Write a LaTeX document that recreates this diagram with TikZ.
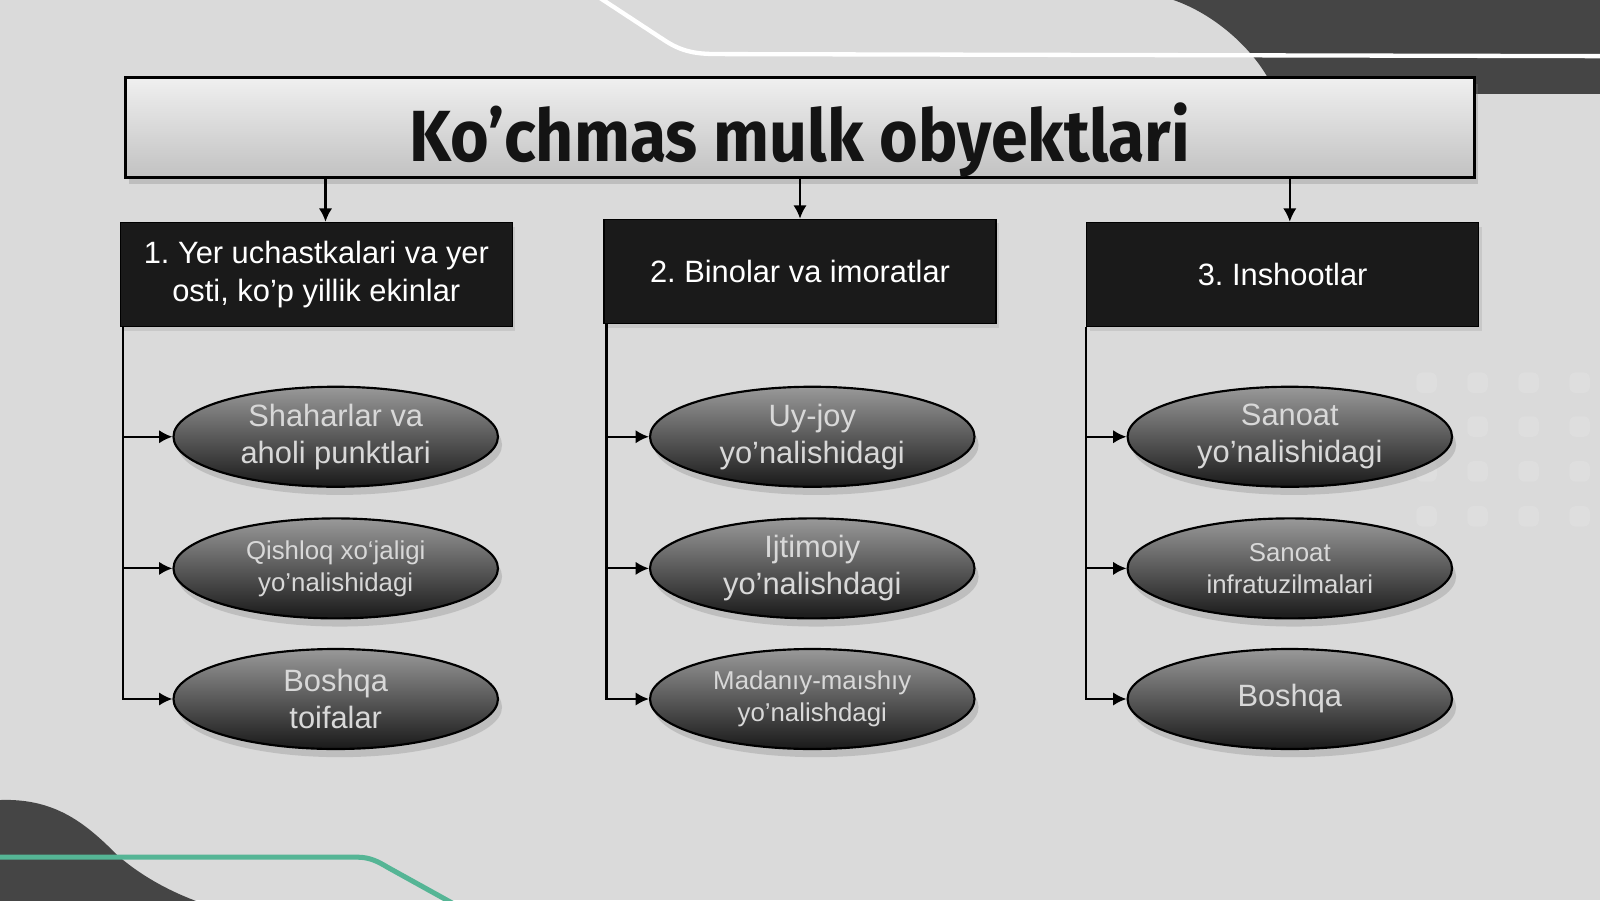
\documentclass[tikz,border=0pt]{standalone}
\usepackage{fontspec}
\setmainfont{Liberation Sans}
\newfontfamily\titlefont[FakeStretch=0.915]{Fira Sans}
\usetikzlibrary{positioning,shapes.geometric,shadows,arrows.meta}
\definecolor{bg}{HTML}{DADADA}
\definecolor{darkshape}{HTML}{454545}
\definecolor{boxfill}{HTML}{1A1A1A}
\definecolor{linegreen}{HTML}{55B595}
\definecolor{ovaltext}{HTML}{D8D8D8}
\frenchspacing
\begin{document}
\begin{tikzpicture}[
  arr/.style={-{Latex[length=1.3mm,width=1.3mm]}, line width=0.6pt},
  titlebox/.style={rectangle, draw=black, line width=0.8pt, top color=black!6, bottom color=black!24, minimum width=13.22cm, minimum height=0.98cm, drop shadow={opacity=0.3, shadow xshift=0.3mm, shadow yshift=-0.6mm}},
  titletext/.style={font=\titlefont\bfseries\fontsize{20.2}{24}\selectfont, text=black!92},
  catbox/.style={rectangle, fill=boxfill, draw=black, text=white, minimum width=3.84cm, minimum height=1.02cm, align=center, font=\fontsize{8.6}{10.5}\selectfont, drop shadow={opacity=0.2, shadow xshift=0.3mm, shadow yshift=-0.4mm}},
  oval/.style={ellipse, draw=black, line width=0.6pt, top color=black!40, bottom color=black!90, minimum width=3.18cm, minimum height=0.98cm, inner sep=0pt, text=ovaltext, align=center, font=\fontsize{8.6}{10.3}\selectfont, drop shadow={opacity=0.3, shadow xshift=0.4mm, shadow yshift=-0.8mm}},
  small/.style={font=\fontsize{7.2}{8.9}\selectfont}
]
\fill[bg] (0,0) rectangle (15.68,-8.82);
\useasboundingbox (0,0) rectangle (15.68,-8.82);
\fill[darkshape] (11.50,0) .. controls (11.85,-0.12) and (12.20,-0.40) .. (12.40,-0.72) -- (12.52,-0.92) -- (15.68,-0.92) -- (15.68,0) -- cycle;
\draw[white, line width=1.2pt] (5.88,0.02) -- (6.52,-0.40) .. controls (6.72,-0.53) and (6.88,-0.53) .. (7.10,-0.53) -- (15.70,-0.55);
\fill[darkshape] (0,-7.84) .. controls (0.55,-7.82) and (0.85,-8.08) .. (1.15,-8.38) .. controls (1.40,-8.60) and (1.70,-8.75) .. (1.95,-8.84) -- (0,-8.84) -- cycle;
\draw[linegreen, line width=1.4pt] (-0.02,-8.40) -- (3.50,-8.40) .. controls (3.62,-8.40) and (3.70,-8.44) .. (3.80,-8.50) -- (4.45,-8.86);
\foreach \x in {13.98,14.48,14.98,15.48}
  \foreach \y in {-3.75,-4.18,-4.62,-5.06}
    \fill[white, opacity=0.12, rounded corners=0.06cm] (\x-0.1,\y-0.1) rectangle (\x+0.1,\y+0.1);

\node[titlebox] (title) at (7.84,-1.25) {};
\node[titletext] (titlelabel) at ([yshift=-1.2mm]title.center) {Ko’chmas mulk obyektlari};

\node[catbox] (b1) at (3.10,-2.69) {1. Yer uchastkalari va yer\\osti, ko’p yillik ekinlar};
\node[catbox] (b2) at (7.84,-2.66) {2. Binolar va imoratlar};
\node[catbox] (b3) at (12.57,-2.69) {3. Inshootlar};

\draw[arr] ([xshift=0.9mm]title.south -| b1.north) -- ([xshift=0.9mm]b1.north);
\draw[arr] (title.south -| b2.north) -- (b2.north);
\draw[arr] ([xshift=0.7mm]title.south -| b3.north) -- ([xshift=0.7mm]b3.north);

\node[oval] (e11) at (3.29,-4.28) {Shaharlar va\\aholi punktlari};
\node[oval, small] (e12) at (3.29,-5.57) {Qishloq xo‘jaligi\\yo’nalishidagi};
\node[oval] (e13) at (3.29,-6.85) {Boshqa\\toifalar};
\node[oval] (e21) at (7.96,-4.28) {Uy-joy\\yo’nalishidagi};
\node[oval] (e22) at (7.96,-5.57) {Ijtimoiy\\yo’nalishdagi};
\node[oval, small] (e23) at (7.96,-6.85) {Madanıy-maıshıy\\yo’nalishdagi};
\node[oval] (e31) at (12.64,-4.28) {Sanoat\\yo’nalishidagi};
\node[oval, small] (e32) at (12.64,-5.57) {Sanoat\\infratuzilmalari};
\node[oval] (e33) at (12.64,-6.85) {Boshqa};

\foreach \i in {1,2,3} {
  \draw[arr] ([xshift=0.3mm]b1.south west) |- (e1\i.west);
  \draw[arr] ([xshift=0.3mm]b2.south west) |- (e2\i.west);
  \draw[arr] (b3.south west) |- (e3\i.west);
}
\end{tikzpicture}
\end{document}
